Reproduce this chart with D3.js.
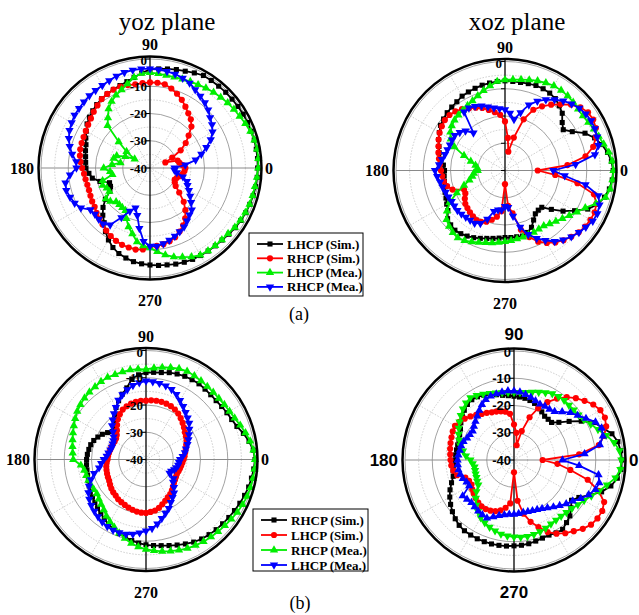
<!DOCTYPE html>
<html>
<head>
<meta charset="utf-8">
<script src="https://cdn.jsdelivr.net/npm/d3@7"></script>
<style>
  body { margin: 0; background: #fff; }
  svg { display: block; }
</style>
</head>
<body>
<svg id="fig" width="639" height="615"></svg>
<script>
// angles of every sample, degrees, counter-clockwise from 0 (right)
const angles = d3.range(0, 360, 5)
const radialTicks = [0, -10, -20, -30, -40]
const minorRings = [-5, -15, -25, -35]
const spokeAngles = [30, 60, 120, 150, 210, 240, 300, 330]
const angleTicks = [0, 90, 180, 270]

// (a) yoz plane
const aYozLhcpSim = [-0.5,-0.4,-0.4,-0.4,-0.5,-0.5,-0.5,-0.6,-0.7,-0.7,-0.8,-0.8,-0.8,-1.5,-2.2,-2.6,-3.1,-3.5,-3.8,-5,-6.3,-7.2,-7.8,-8.2,-8.6,-9,-9.6,-10.3,-11,-11.8,-13,-14,-15,-15.5,-16,-16.3,-16.5,-17.5,-18.5,-21,-24.2,-24,-23,-20,-17.5,-15.5,-13.8,-11.5,-9.5,-7.8,-6.6,-5.8,-5.1,-4.7,-4.4,-4.1,-3.9,-3.5,-3.2,-3,-2.9,-2.8,-2.7,-2.6,-2.2,-1.8,-1.5,-1.2,-1,-0.8,-0.6,-0.5]
const aYozRhcpSim = [-27,-28,-29,-29.5,-34,-31,-27,-24,-21.5,-18.5,-16.7,-15.5,-14,-12.4,-11,-9.8,-8.8,-8.6,-8.6,-8.7,-8.8,-8.5,-8.2,-8.3,-8.6,-9.1,-10,-10.8,-11.7,-12.3,-12.8,-13.1,-13.3,-13.5,-13.9,-14.4,-15.1,-15.7,-16,-16.2,-16.2,-15.9,-15.5,-15.2,-14.4,-13.7,-12.9,-12,-11.2,-10.5,-10,-9.8,-9.6,-10,-11,-11.3,-11.6,-12.2,-13,-14.3,-15.7,-17.5,-19.8,-22.5,-26,-28.5,-29.5,-30,-29.5,-28.5,-27.8,-27.3]
const aYozLhcpMea = [-0.3,-0.1,-0.1,-0.3,-0.8,-1.4,-2,-2.4,-2.8,-3.3,-3.7,-4.2,-4.7,-5,-5.3,-5.5,-5.5,-5.2,-5,-5.1,-6.2,-8,-9.5,-10.5,-11.8,-13.5,-16,-18,-25,-29.5,-33.5,-30,-27,-26.2,-29,-26,-23,-25.3,-26,-22,-21.5,-22.5,-22.8,-20.2,-21,-22.4,-22.5,-22.3,-22,-19.5,-17,-15,-12.5,-11.3,-10.7,-9.2,-7.6,-6.2,-5.2,-4,-3.1,-2.9,-2.8,-2.7,-2.6,-2,-1.7,-1.4,-1.1,-1,-0.9,-0.6]
const aYozRhcpMea = [-31,-27,-23,-20.5,-18,-15.4,-13.5,-12.2,-11.2,-9.8,-8.7,-7.8,-6.8,-5.6,-4.9,-4.3,-4,-3.8,-3.6,-3.5,-3.5,-3.7,-4.1,-4.6,-5,-5.2,-5.4,-5.7,-6,-6.2,-6.8,-7.4,-8.3,-9.5,-11,-12.8,-13,-10.5,-8.5,-8.2,-8.8,-9.5,-10.7,-13.3,-13.6,-13.4,-13.2,-14.5,-19,-22.5,-24.4,-22,-17.5,-13,-11.3,-11.2,-11.8,-12.6,-13.4,-14.2,-15,-16.3,-17.5,-18.3,-20.3,-22,-23.5,-24.8,-25.6,-27.5,-30,-31]

// (a) xoz plane
const aXozLhcpSim = [-0.3,-0.8,-1.8,-3.2,-5,-7.6,-11.5,-13.9,-12.6,-10.3,-9,-7.8,-7.2,-6.9,-6.8,-7,-7.2,-7.2,-7.1,-7.2,-7.4,-7.6,-7.9,-8.2,-8.5,-9.2,-9.6,-10,-10.6,-11.1,-12.2,-13.1,-14.2,-15,-16.2,-17.3,-17.8,-17.6,-17.4,-17.2,-16.6,-16.1,-15.3,-14.4,-12.5,-11.8,-11.4,-11.7,-12.2,-12.8,-13.5,-14.2,-14.7,-15.1,-15.4,-15.3,-15.3,-15.1,-15.8,-17,-19,-20.6,-21,-20.9,-17.8,-14,-10.5,-6.5,-3.8,-2.2,-1.1,-0.5]
const aXozRhcpSim = [-28,-17,-10,-6.5,-4.5,-3.2,-2.6,-2.8,-3.9,-5.8,-8.3,-10.5,-12.8,-15.4,-20,-27.5,-33,-28,-22,-19.5,-18.3,-17,-15.6,-14.6,-13.6,-12.5,-11.7,-11.2,-11.2,-11.7,-12.3,-13.1,-14,-14.7,-15.4,-16,-16.5,-16.9,-17.2,-18,-19.5,-23.4,-23.2,-22,-21,-20.5,-20,-19.5,-19,-19.2,-20,-21.3,-22.8,-25,-35,-27,-24,-17.5,-14,-11.2,-9.3,-7.8,-6.6,-5.6,-4.7,-4.1,-3.8,-3.7,-4.3,-6.2,-13,-21.5]
const aXozLhcpMea = [-0.2,-0.5,-1.3,-2.5,-3.4,-4,-4.7,-5.1,-5,-4.6,-4.2,-4.1,-4.1,-4.5,-5,-5.6,-6.1,-6.5,-6.7,-7.2,-8.5,-9.6,-10.8,-11.8,-12.5,-13,-13.4,-13.8,-14.5,-15.5,-17,-19.5,-24,-27,-29,-29.8,-30,-28.5,-27.8,-26.5,-24,-20.5,-16.5,-14,-12,-11,-10.2,-9.8,-10.3,-11.1,-11.9,-12.6,-13,-13.5,-13.9,-14.2,-14.5,-14.7,-14.9,-15,-15.2,-15.2,-14.5,-13.6,-12.5,-11.2,-9.5,-7.5,-4.5,-1.8,-0.8,-0.4]
const aXozRhcpMea = [-22.3,-14,-6.5,-4.5,-4,-3.6,-3.5,-3.8,-4.4,-5.4,-6.7,-8.3,-10,-11.9,-14.4,-18,-21,-18.9,-17.7,-17.2,-16.7,-15.8,-14.8,-14,-13.5,-13.8,-22,-19.5,-18.3,-17.5,-17.6,-17.7,-17.5,-17.2,-16.5,-15.7,-14.3,-15,-15.8,-16.3,-16.8,-17.1,-17.4,-17.3,-17.2,-17.4,-17.6,-17.7,-17.7,-18.6,-21,-24.5,-25.3,-25.5,-26.8,-26.4,-23,-18.5,-15,-12.5,-10.4,-8.2,-6.8,-5.6,-4.6,-3.8,-2.8,-2.6,-3.1,-4.5,-10,-18]

// (b) yoz plane
const bYozRhcpSim = [0,-0.5,-1.6,-3,-4.5,-5.3,-5.7,-6.1,-6.4,-6.4,-6.3,-6.1,-6.2,-6.3,-6.6,-7,-7.6,-7.9,-8.1,-8.8,-10,-12.8,-14.5,-16.2,-18,-20,-22.3,-23.5,-24,-22.8,-21.5,-20.5,-19.6,-19,-18.7,-18.4,-18.2,-18.1,-18,-17.8,-17.5,-17,-16.4,-16,-15.5,-14.8,-14.2,-13.3,-12.5,-11.8,-11.1,-10.5,-9.8,-9.2,-8.7,-8.3,-7.9,-7.3,-6.6,-5.8,-5,-4.4,-4,-3.6,-3.3,-2.9,-2.5,-2,-1.5,-1,-0.7,-0.3]
const bYozLhcpSim = [-26.2,-25.8,-25.4,-24.9,-24.3,-23.6,-23.1,-22.6,-21.8,-21,-20.2,-19.4,-18.8,-18.4,-18.2,-18.1,-18.1,-18.2,-18.4,-18.4,-18.5,-18.8,-19.2,-19.8,-20.8,-22,-23.5,-24.9,-26,-26.6,-26.7,-26.6,-26.5,-26.4,-26.2,-26,-25.9,-25.5,-25.2,-25,-24.8,-24.6,-24.4,-23.9,-23.4,-23,-22.7,-22.2,-21.9,-21.6,-21.2,-20.9,-20.6,-20.4,-20.4,-20.7,-21,-21.6,-22.5,-23.3,-24,-24.5,-25.2,-26,-26.6,-27,-27.3,-27.5,-27.3,-27.1,-26.9,-26.6]
const bYozRhcpMea = [0,-0.4,-1.2,-2.2,-3.2,-4.1,-4.6,-4.9,-5.1,-5.1,-5,-4.8,-4.5,-4.3,-4.5,-5.1,-5.7,-6.3,-6.9,-6.7,-6.6,-6.7,-6.8,-6.7,-7,-7.4,-7.7,-8.1,-8.6,-9.2,-10,-10.8,-11.5,-12.1,-12.6,-13,-13.3,-16,-17,-17.3,-17.5,-17.7,-17.9,-18,-17.4,-16.7,-15.9,-14.7,-13.6,-12.5,-11.3,-10,-8.8,-7.8,-7,-6.4,-5.8,-5.2,-4.6,-4,-3.6,-3.2,-2.9,-2.6,-2.2,-1.8,-1.3,-0.9,-0.5,-0.3,-0.1,0]
const bYozLhcpMea = [-27.5,-26.5,-25.5,-24.8,-23.8,-22.8,-21.8,-20.6,-19.3,-18.4,-17.4,-16.2,-15,-13.6,-12.6,-12,-11.6,-11.3,-11.2,-11.7,-12.4,-13.5,-14.7,-16,-17.9,-19.5,-21,-22.4,-24.2,-25.5,-26.2,-26.5,-26.7,-26.5,-26,-25.5,-24.5,-23.5,-22.5,-20.3,-18.5,-16.9,-15.6,-14.6,-13.8,-13.2,-12.6,-12,-11.6,-11.4,-11.4,-11.6,-12.2,-13,-13.8,-14.6,-16,-17.6,-19,-20.2,-21.8,-23,-24,-25.5,-27,-27.7,-30,-29.8,-29,-28.5,-28,-27.8]

// (b) xoz plane
const bXozRhcpSim = [-0.4,-0.7,-1.3,-2.8,-5.5,-7.5,-11.5,-15.3,-18.5,-20.5,-20.5,-20.4,-19.6,-18.8,-17.9,-17.4,-17,-16.8,-16.6,-16.3,-15.9,-15.2,-14.5,-13.8,-13.2,-13,-13.4,-14.2,-15.3,-16.2,-17.3,-18,-18.5,-18.6,-18.6,-18.5,-18.3,-17.8,-17.3,-16.9,-15.6,-14.1,-12.8,-11.6,-10.5,-9.5,-8.7,-8.3,-8.2,-8.1,-8.1,-8.1,-8.2,-8.3,-8.5,-8.6,-8.8,-9.2,-9.5,-9.6,-9.1,-8.9,-10,-11,-12.7,-14.2,-12.5,-9.5,-5.8,-3.2,-1.5,-0.6]
const bXozLhcpSim = [-29.5,-16,-8.4,-5.8,-4,-3.2,-3.4,-4.5,-6.2,-7.9,-9.9,-12.5,-15.5,-19,-23.3,-29,-34.5,-30,-27,-23,-22,-21.5,-21.1,-20.7,-20,-19.4,-18.4,-17.4,-16.4,-15.6,-15,-15.2,-15.6,-15.9,-16.2,-16.5,-16.7,-16.9,-17.4,-18.4,-21,-21.8,-22,-21.3,-20.7,-20.1,-19.6,-19.2,-19.2,-19.5,-20,-20.9,-22.2,-24,-35.5,-25,-20,-16.5,-13.8,-10.8,-8.8,-7.2,-5.9,-4.3,-3.1,-2.6,-2.6,-3.5,-7,-12,-19,-24]
const bXozRhcpMea = [-0.6,-1.1,-2.7,-5,-7.2,-8.9,-10.4,-11.1,-11.4,-11.5,-11.4,-11.5,-11.9,-12.7,-13.5,-14.2,-14.8,-15.1,-15.2,-15.1,-14.9,-14.5,-14,-13.3,-12.6,-12.1,-12.6,-13.5,-14.5,-15.6,-16.6,-17.6,-18.6,-19.6,-21,-22.3,-24,-24.8,-25.3,-25.2,-25,-24.8,-24.4,-24,-22,-20.2,-18.4,-17,-15.6,-14.6,-13.8,-13.1,-12.4,-12,-11.8,-11.6,-11.5,-11.7,-12,-12.4,-12.9,-13.1,-13.1,-12.8,-12.3,-11.4,-10.3,-8.7,-6.7,-4.7,-2.2,-0.8]
const bXozLhcpMea = [-22.2,-14,-8,-6.2,-5.8,-7,-9.5,-11.5,-13,-15,-16.8,-17.3,-17.3,-17.4,-16.9,-16.2,-15.6,-15,-14.7,-14.5,-14.7,-14.9,-15,-15.5,-16.5,-17.8,-19,-20,-20.8,-21.5,-21.3,-21,-20.3,-19.9,-19.8,-19.5,-19.3,-19.3,-19.3,-19.6,-20,-20.8,-21,-17,-17.5,-17.9,-17.5,-17.1,-16.8,-16.5,-17.8,-18.9,-19.6,-20,-20.1,-20.3,-20.5,-20.4,-20.2,-19.9,-19.4,-18.6,-17.5,-16.3,-15,-13.7,-11.7,-9.8,-8.2,-7.6,-8.5,-16]

const legendA = ["LHCP (Sim.)", "RHCP (Sim.)", "LHCP (Mea.)", "RHCP (Mea.)"]
const legendB = ["RHCP (Sim.)", "LHCP (Sim.)", "RHCP (Mea.)", "LHCP (Mea.)"]

const colors = ["#000000", "#ff0000", "#00ee00", "#0000ff"]
const serif = "'Liberation Serif', 'Times New Roman', serif"
const sans = "'Liberation Sans', Arial, sans-serif"
const R = 109

const svg = d3.select("#fig")

// marker shapes: 0 square, 1 circle, 2 up triangle, 3 down triangle
function marker(kind) {
    if (kind === 0) return { path: d3.symbol(d3.symbolSquare, 26)(), rot: 0 }
    if (kind === 1) return { path: d3.symbol(d3.symbolCircle, 30)(), rot: 0 }
    if (kind === 2) return { path: d3.symbol(d3.symbolTriangle, 30)(), rot: 0 }
    return { path: d3.symbol(d3.symbolTriangle, 30)(), rot: 180 }
}

const panels = [
    { cx: 150, cy: 168, title: "yoz plane", tx: 167, font: serif, labels: radialTicks,
      series: [aYozLhcpSim, aYozRhcpSim, aYozLhcpMea, aYozRhcpMea], marks: [0, 1, 2, 3] },
    { cx: 505, cy: 170.5, title: "xoz plane", tx: 517, font: serif, labels: [0],
      series: [aXozLhcpSim, aXozRhcpSim, aXozLhcpMea, aXozRhcpMea], marks: [0, 1, 2, 3] },
    { cx: 146, cy: 459.5, font: serif, labels: radialTicks,
      series: [bYozRhcpSim, bYozLhcpSim, bYozRhcpMea, bYozLhcpMea], marks: [0, 1, 2, 3] },
    { cx: 514, cy: 460, font: sans, labels: radialTicks,
      series: [bXozRhcpSim, bXozLhcpSim, bXozRhcpMea, bXozLhcpMea], marks: [0, 1, 3, 2] }
]

panels.forEach(p => {
    const g = svg.append("g").attr("transform", `translate(${p.cx},${p.cy})`)
    const r = d3.scaleLinear().domain([-40, 0]).range([0, R]).clamp(true)
    const rad = a => a * Math.PI / 180

    g.selectAll(".minor").data(minorRings).join("circle")
        .attr("r", d => r(d)).attr("fill", "none")
        .attr("stroke", "#b8b8b8").attr("stroke-width", 0.7).attr("stroke-dasharray", "1.5,1.5")
    g.selectAll(".major").data(radialTicks.filter(d => d > -40)).join("circle")
        .attr("r", d => r(d)).attr("fill", "none")
        .attr("stroke", "#8a8a8a").attr("stroke-width", 0.8)
    g.selectAll(".spoke").data(spokeAngles).join("line")
        .attr("x1", 0).attr("y1", 0)
        .attr("x2", d => R * Math.cos(rad(d))).attr("y2", d => -R * Math.sin(rad(d)))
        .attr("stroke", "#b8b8b8").attr("stroke-width", 0.7).attr("stroke-dasharray", "1.5,1.5")
    g.append("line").attr("x1", -R).attr("x2", R).attr("y1", 0).attr("y2", 0)
        .attr("stroke", "#8a8a8a").attr("stroke-width", 1)

    // radial axis
    g.append("line").attr("x1", 0).attr("x2", 0).attr("y1", -R - 2).attr("y2", R + 2)
        .attr("stroke", "#000").attr("stroke-width", 1.3)
    g.selectAll(".tick").data(radialTicks).join("line")
        .attr("x1", -4).attr("x2", 0).attr("y1", d => -r(d)).attr("y2", d => -r(d))
        .attr("stroke", "#000").attr("stroke-width", 1)

    const line = d3.lineRadial()
        .angle((d, i) => Math.PI / 2 - rad(angles[i]))
        .radius(d => r(d))
        .curve(d3.curveLinearClosed)

    p.series.forEach((vals, k) => {
        g.append("path").datum(vals).attr("d", line)
            .attr("fill", "none").attr("stroke", colors[k]).attr("stroke-width", 1.8)
        const m = marker(p.marks[k])
        g.selectAll(null).data(vals).join("path")
            .attr("d", m.path).attr("fill", colors[k])
            .attr("transform", (d, i) => {
                const a = rad(angles[i])
                return `translate(${r(d) * Math.cos(a)},${-r(d) * Math.sin(a)}) rotate(${m.rot})`
            })
    })

    g.append("circle").attr("r", R + 2.5).attr("fill", "none")
        .attr("stroke", "#000").attr("stroke-width", 2.5)

    g.selectAll(".rl").data(p.labels).join("text")
        .attr("x", -3).attr("y", d => -r(d) + (d === 0 ? 6 : 4.5))
        .attr("text-anchor", "end")
        .style("font-family", p.font).style("font-weight", "bold").style("font-size", "13px")
        .text(d => d)

    const big = p.font === sans ? 17 : 16
    const pos = {
        0: { x: R + 6, y: 5.5, anchor: "start" },
        90: { x: 0, y: p.font === sans ? -R - 11 : -R - 9, anchor: "middle" },
        180: { x: -R - 7, y: 5.5, anchor: "end" },
        270: { x: 0, y: R + 29, anchor: "middle" }
    }
    g.selectAll(".al").data(angleTicks).join("text")
        .attr("x", d => pos[d].x).attr("y", d => pos[d].y)
        .attr("text-anchor", d => pos[d].anchor)
        .style("font-family", p.font).style("font-weight", "bold").style("font-size", big + "px")
        .text(d => d)

    if (p.title) {
        svg.append("text").attr("x", p.tx).attr("y", 29.5).attr("text-anchor", "middle")
            .style("font-family", serif).style("font-size", "25px").text(p.title)
    }
})

function legend(x, y, w, h, step, names) {
    const g = svg.append("g").attr("transform", `translate(${x},${y})`)
    g.append("rect").attr("width", w).attr("height", h)
        .attr("fill", "#fff").attr("stroke", "#000").attr("stroke-width", 1)
    names.forEach((name, k) => {
        const yy = 11 + k * step
        g.append("line").attr("x1", 8).attr("x2", 34).attr("y1", yy).attr("y2", yy)
            .attr("stroke", colors[k]).attr("stroke-width", 1.8)
        const m = marker(k)
        g.append("path").attr("d", m.path).attr("fill", colors[k])
            .attr("transform", `translate(21,${yy}) rotate(${m.rot})`)
        g.append("text").attr("x", 38).attr("y", yy + 4.5)
            .style("font-family", serif).style("font-weight", "bold").style("font-size", "13px")
            .text(name)
    })
}

legend(249, 233, 114, 63, 14.3, legendA)
legend(253, 509, 115, 62, 15, legendB)

svg.append("text").attr("x", 299).attr("y", 320).attr("text-anchor", "middle")
    .style("font-family", serif).style("font-size", "18px").text("(a)")
svg.append("text").attr("x", 300).attr("y", 609).attr("text-anchor", "middle")
    .style("font-family", serif).style("font-size", "18px").text("(b)")
</script>
</body>
</html>
